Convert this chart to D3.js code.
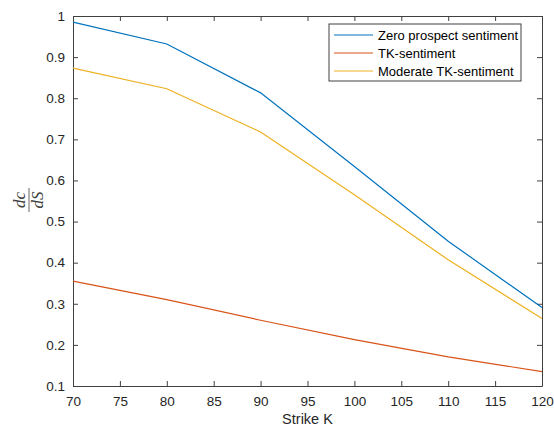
<!DOCTYPE html>
<html lang="en">
<head>
    <meta charset="UTF-8">
    <title>dc/dS vs Strike</title>
    <style>
        body { margin: 0; background: #fff; }
        text { font-family: "Liberation Sans", Arial, sans-serif; }
    </style>
</head>
<body>
    <div id="chart"></div>

    <script src="https://d3js.org/d3.v7.min.js"></script>
    <script>
        // Chart data
        const strikes = [70, 80, 90, 100, 110, 120];
        const zeroProspect = [0.985, 0.932, 0.813, 0.634, 0.452, 0.291];
        const tkSentiment = [0.355, 0.310, 0.260, 0.213, 0.171, 0.135];
        const moderateTK = [0.873, 0.823, 0.718, 0.565, 0.407, 0.264];
        const seriesNames = ['Zero prospect sentiment', 'TK-sentiment', 'Moderate TK-sentiment'];
        const seriesColors = ['#0072BD', '#D95319', '#EDB120'];
        const xTicks = [70, 75, 80, 85, 90, 95, 100, 105, 110, 115, 120];
        const yTicks = [0.1, 0.2, 0.3, 0.4, 0.5, 0.6, 0.7, 0.8, 0.9, 1];

        const W = 554, H = 432;
        const margin = { top: 16, right: 12, bottom: 46, left: 73 };
        const width = W - margin.left - margin.right;
        const height = H - margin.top - margin.bottom;
        const axisColor = '#404040';

        const svg = d3.select('#chart')
            .append('svg')
            .attr('width', W)
            .attr('height', H);

        const g = svg.append('g')
            .attr('transform', `translate(${margin.left},${margin.top})`);

        const x = d3.scaleLinear().domain([70, 120]).range([0, width]);
        const y = d3.scaleLinear().domain([0.1, 1]).range([height, 0]);

        // Axes with inward ticks on all four sides
        const styleAxis = sel => {
            sel.select('.domain').attr('stroke', axisColor);
            sel.selectAll('.tick line').attr('stroke', axisColor);
            sel.selectAll('.tick text')
                .attr('fill', '#262626')
                .style('font-size', '13.5px')
                .style('font-family', '"Liberation Sans", Arial, sans-serif');
        };

        g.append('g')
            .attr('transform', `translate(0,${height})`)
            .call(d3.axisBottom(x).tickValues(xTicks).tickSize(-5).tickPadding(10).tickSizeOuter(0))
            .call(styleAxis);

        g.append('g')
            .call(d3.axisTop(x).tickValues(xTicks).tickSize(-5).tickFormat('').tickSizeOuter(0))
            .call(styleAxis);

        g.append('g')
            .call(d3.axisLeft(y).tickValues(yTicks).tickSize(-5).tickPadding(8).tickSizeOuter(0)
                .tickFormat(d => d3.format('')(+d.toFixed(1))))
            .call(styleAxis);

        g.append('g')
            .attr('transform', `translate(${width},0)`)
            .call(d3.axisRight(y).tickValues(yTicks).tickSize(-5).tickFormat('').tickSizeOuter(0))
            .call(styleAxis);

        // Lines
        const allSeries = [zeroProspect, tkSentiment, moderateTK];
        const line = d3.line()
            .x((d, i) => x(strikes[i]))
            .y(d => y(d));

        allSeries.forEach((vals, i) => {
            g.append('path')
                .datum(vals)
                .attr('fill', 'none')
                .attr('stroke', seriesColors[i])
                .attr('stroke-width', 1.2)
                .attr('d', line);
        });

        // Legend
        const legend = svg.append('g').attr('transform', 'translate(329,24)');
        legend.append('rect')
            .attr('width', 192)
            .attr('height', 57)
            .attr('fill', '#fff')
            .attr('stroke', axisColor)
            .attr('stroke-width', 1);
        seriesNames.forEach((name, i) => {
            const ly = 11 + i * 18;
            legend.append('line')
                .attr('x1', 5).attr('x2', 44)
                .attr('y1', ly).attr('y2', ly)
                .attr('stroke', seriesColors[i])
                .attr('stroke-width', 1.2);
            legend.append('text')
                .attr('x', 49)
                .attr('y', ly + 4.5)
                .attr('fill', '#000')
                .style('font-size', '13px')
                .text(name);
        });

        // X label
        svg.append('text')
            .attr('x', margin.left + width / 2)
            .attr('y', 424)
            .attr('text-anchor', 'middle')
            .attr('fill', '#262626')
            .style('font-size', '14.5px')
            .text('Strike K');

        // Y label: dc / dS fraction
        const yl = svg.append('g').attr('transform', 'translate(29,200) rotate(-90)');
        yl.append('line')
            .attr('x1', -12).attr('x2', 12)
            .attr('y1', 0).attr('y2', 0)
            .attr('stroke', '#404040')
            .attr('stroke-width', 0.8);
        yl.append('text')
            .attr('x', 0).attr('y', -4)
            .attr('text-anchor', 'middle')
            .attr('fill', '#404040')
            .style('font-family', '"Liberation Serif", "DejaVu Serif", serif')
            .style('font-style', 'italic')
            .style('font-size', '17px')
            .text('dc');
        yl.append('text')
            .attr('x', 0).attr('y', 14)
            .attr('text-anchor', 'middle')
            .attr('fill', '#404040')
            .style('font-family', '"Liberation Serif", "DejaVu Serif", serif')
            .style('font-style', 'italic')
            .style('font-size', '17px')
            .text('dS');
    </script>
</body>
</html>
